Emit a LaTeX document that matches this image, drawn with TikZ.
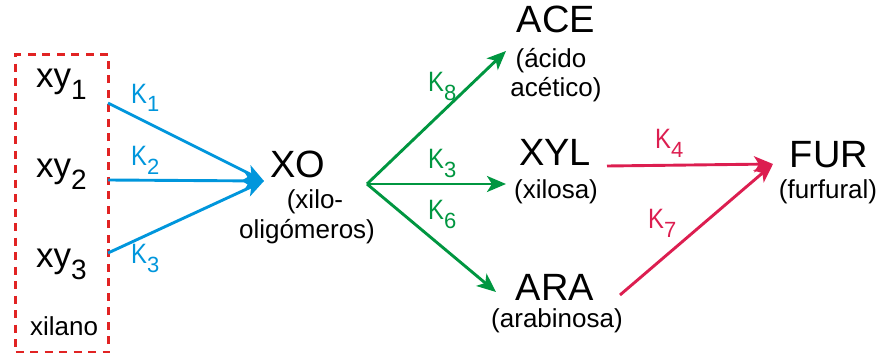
\documentclass[tikz,border=0pt]{standalone}
\usepackage{fontspec}
\setmainfont{Liberation Sans}
\usetikzlibrary{arrows.meta}
\definecolor{cblue}{RGB}{0,150,220}
\definecolor{cgreen}{RGB}{0,150,64}
\definecolor{cred}{RGB}{225,35,35}
\definecolor{ccrim}{RGB}{220,30,80}
\newcommand\bigf{\fontsize{38}{40}\selectfont}
\newcommand\xyf{\fontsize{35}{36}\selectfont}
\newcommand\smallf{\fontsize{26}{28}\selectfont}
\newcommand\kf{\fontsize{28}{30}\selectfont}
\newcommand\xysub[1]{{\fontsize{28}{28}\selectfont\raisebox{-12pt}{#1}}}
\newcommand\kk[1]{{\kf\scalebox{0.85}[1]{K}}{\fontsize{22}{24}\selectfont\raisebox{-9pt}{#1}}}
\begin{document}
\begin{tikzpicture}[x=1pt,y=-1pt,
  txt/.style={inner sep=0pt, anchor=base west},
  ctxt/.style={inner sep=0pt, anchor=base},
  arr/.style={line width=2.9pt, -{Stealth[length=19pt,width=16pt,inset=5pt]}}]
\useasboundingbox (0,0) rectangle (879,353);
% dashed box
\node[draw=cred, line width=3.4pt, dash pattern=on 8pt off 6.5pt, inner sep=0pt,
      minimum width=93pt, minimum height=298pt, anchor=north west] (box) at (14,53) {};
% xylan fractions
\node[txt] (xy1) at (36,88) {\xyf xy\xysub{1}};
\node[txt] (xy2) at (36,177) {\xyf xy\xysub{2}};
\node[txt] (xy3) at (36,267) {\xyf xy\xysub{3}};
\node[txt] (xil) at (30,335) {\smallf xilano};
% XO
\node[ctxt] (xo) at (298,177) {\bigf XO};
\node[ctxt] (xo1) at (315,208) {\smallf (xilo-};
\node[ctxt] (xo2) at (307,238) {\smallf oligómeros)};
% ACE
\node[ctxt] (ace) at (556,33) {\bigf ACE};
\node[ctxt] (ace1) at (551,67) {\smallf (ácido};
\node[ctxt] (ace2) at (556,97) {\smallf acético)};
% XYL
\node[ctxt] (xyl) at (555,165) {\bigf XYL};
\node[ctxt] (xyl1) at (556,198) {\smallf (xilosa)};
% ARA
\node[ctxt] (ara) at (555,300) {\bigf ARA};
\node[ctxt] (ara1) at (557,327) {\smallf (arabinosa)};
% FUR
\node[ctxt] (fur) at (829,167) {\bigf FUR};
\node[ctxt] (fur1) at (828,198) {\smallf (furfural)};
% connector coordinates
\coordinate (b1) at (108,103);
\coordinate (b2) at (108,180);
\coordinate (b3) at (108,253);
\coordinate (xoin) at (264,181);
\coordinate (g0) at (367,184);
\coordinate (gace) at (506,51);
\coordinate (gxyl) at (506,184);
\coordinate (gara) at (496,292);
\coordinate (rxyl) at (607,166);
\coordinate (rara) at (620,295);
\coordinate (rfur) at (773,164);
% blue
\draw[arr, cblue] (b1) -- (xoin);
\draw[arr, cblue] (b2) -- (xoin);
\draw[arr, cblue] (b3) -- (xoin);
\node[txt, text=cblue] (k1) at (131,103) {\kk{1}};
\node[txt, text=cblue] (k2) at (131,165) {\kk{2}};
\node[txt, text=cblue] (k3) at (131,263) {\kk{3}};
% green
\draw[arr, cgreen] (g0) -- (gace);
\draw[arr, cgreen] (g0) -- (gxyl);
\draw[arr, cgreen] (g0) -- (gara);
\node[txt, text=cgreen] (k8) at (428,92) {\kk{8}};
\node[txt, text=cgreen] (k3g) at (428,168) {\kk{3}};
\node[txt, text=cgreen] (k6) at (428,219) {\kk{6}};
% red
\draw[arr, ccrim] (rxyl) -- (rfur);
\draw[arr, ccrim] (rara) -- (rfur);
\node[txt, text=ccrim] (k4) at (655,149) {\kk{4}};
\node[txt, text=ccrim] (k7) at (648,228) {\kk{7}};
\end{tikzpicture}
\end{document}
